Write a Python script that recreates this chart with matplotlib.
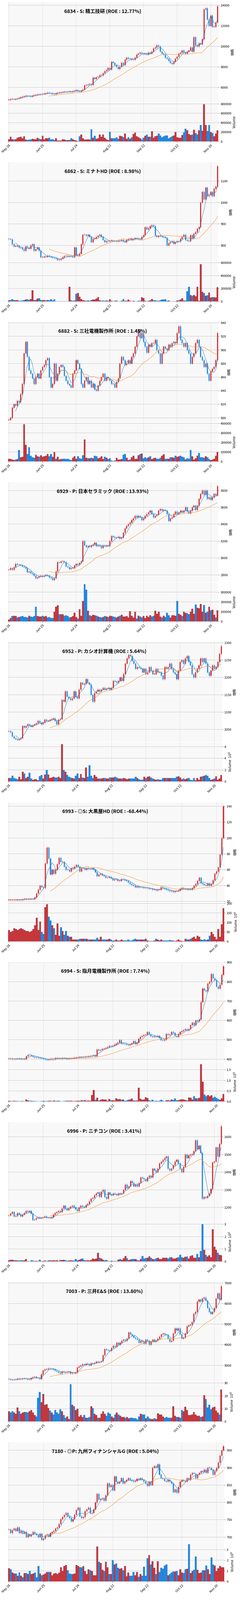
import numpy as np
import matplotlib
matplotlib.use("Agg")
import matplotlib.pyplot as plt
from matplotlib.ticker import ScalarFormatter

plt.rcParams['font.family'] = ['Noto Sans CJK JP', 'DejaVu Sans']

# ---- data ----
titles = [
    "6834 - S: 精工技研 (ROE : 12.77%)",
    "6862 - S: ミナトHD (ROE : 8.98%)",
    "6882 - S: 三社電機製作所 (ROE : 1.45%)",
    "6929 - P: 日本セラミック (ROE : 13.93%)",
    "6952 - P: カシオ計算機 (ROE : 5.64%)",
    "6993 - ◎S: 大黒屋HD (ROE : -68.44%)",
    "6994 - S: 指月電機製作所 (ROE : 7.74%)",
    "6996 - P: ニチコン (ROE : 3.41%)",
    "7003 - P: 三井E&S (ROE : 13.80%)",
    "7180 - ◎P: 九州フィナンシャルG (ROE : 5.04%)",
]
date_labels = ["May 28", "Jun 25", "Jul 24", "Aug 22", "Sep 22", "Oct 22", "Nov 20"]
date_pos = [0, 20, 40, 60, 80, 100, 120]

close_6834 = [4800,4870,4880,4850,4890,4950,5000,5050,5120,5150,
              5200,5180,5170,5120,5220,5250,5300,5330,5320,5350,
              5380,5400,5450,5500,5450,5420,5380,5350,5450,5500,
              5520,5540,5560,5580,5570,5600,5620,5580,5650,5700,
              5750,5650,5600,5700,5800,6200,6250,6300,6350,6250,
              6950,6850,7000,7050,7200,7200,7400,7600,7700,7900,
              7750,8500,8400,8200,8000,7800,8000,8400,8200,8700,
              8900,8800,8800,8700,8700,8900,9200,9300,9400,9300,
              9250,9300,9200,9400,9300,9500,9800,9900,10100,10000,
              9500,9300,9200,8900,8800,8600,8400,8300,8500,8800,
              9000,9300,9400,9600,9400,9300,9500,9600,9900,9500,
              10900,10100,10000,10300,10200,10700,13600,13700,12600,12000,
              13000,11900,11900,12300,13900]
vol_6834 = [50,100,50,40,50,80,90,100,70,110,
            40,30,40,40,60,50,50,80,60,50,
            120,50,70,70,80,40,50,30,70,20,
            20,20,50,40,30,30,30,70,50,30,
            20,10,110,150,70,40,40,50,40,260,
            80,120,60,70,150,100,150,80,50,30,
            210,70,70,70,90,60,120,110,90,170,
            60,90,60,90,160,190,110,90,70,40,
            80,120,150,100,100,220,80,110,120,170,
            130,90,110,130,130,70,90,110,130,200,
            90,80,80,140,190,270,240,160,140,150,
            250,180,150,240,350,230,790,350,225,350,
            200,180,110,170,240]

close_6862 = [830,828,805,795,795,798,790,788,782,775,
              795,790,785,800,805,775,782,790,775,745,
              745,748,746,752,748,745,742,740,738,732,
              733,738,745,750,752,748,750,748,745,790,
              752,752,760,805,850,850,845,850,840,815,
              830,832,840,845,850,840,825,815,820,818,
              822,822,820,820,818,820,822,825,818,815,
              825,830,832,825,830,835,832,830,828,840,
              848,885,875,880,890,895,890,845,840,845,
              842,840,838,835,800,810,815,820,808,815,
              820,818,830,840,850,825,822,820,848,832,
              855,862,878,885,1000,1050,1015,1070,1030,1035,
              1050,1030,1065,1075,1170]
vol_6862 = [20,25,35,25,20,25,10,10,15,25,
            30,35,25,40,175,25,25,45,50,25,
            20,25,15,25,20,35,15,35,5,5,
            5,5,5,5,3,3,230,20,10,15,
            120,130,75,40,20,15,10,15,10,25,
            30,30,45,70,20,10,15,10,15,10,
            35,10,5,10,15,5,5,10,40,10,
            10,30,10,5,10,5,5,10,10,65,
            55,10,5,10,20,40,20,20,10,10,
            20,30,30,35,10,15,5,5,5,5,
            15,20,30,50,15,15,160,230,100,90,
            100,80,230,10,575,150,130,90,95,140,
            60,70,65,60,220]

close_6882 = [797,800,815,820,818,825,823,835,850,895,
              912,890,870,865,858,850,860,865,858,870,
              875,878,885,888,860,845,850,880,855,865,
              875,878,875,862,855,850,848,845,865,870,
              885,880,872,850,845,855,860,850,855,845,
              850,842,840,848,855,860,865,855,860,858,
              855,850,850,845,853,858,880,890,885,878,
              880,885,880,890,895,905,920,930,918,925,
              912,905,896,908,905,910,910,915,900,895,
              880,895,905,902,900,908,905,910,912,910,
              925,935,915,910,905,910,900,895,880,890,
              895,910,915,905,890,885,875,880,865,855,
              868,872,875,885,925]
vol_6882 = [30,25,20,15,20,25,120,45,50,390,
            175,80,150,60,45,40,70,55,50,65,
            50,55,60,80,55,80,50,100,30,50,
            20,25,30,30,25,30,20,15,40,55,
            30,55,35,30,65,230,40,35,35,40,
            35,60,55,35,40,55,25,50,40,25,
            35,10,5,10,40,20,20,25,70,80,
            40,15,20,45,60,25,30,65,80,85,
            35,45,35,45,55,25,35,40,30,30,
            40,60,75,30,30,30,45,45,40,60,
            50,55,60,50,45,20,35,30,120,55,
            20,35,60,90,45,45,40,55,45,25,
            15,20,30,60,100]

close_6929 = [2860,2880,2860,2890,2930,2920,2920,2910,2900,2890,
              2880,2830,2840,2820,2810,2790,2760,2770,2780,2790,
              2780,2790,2800,2790,2770,2760,2740,2760,2840,2950,
              2945,2960,2960,2950,2900,2890,2870,2880,2880,2910,
              2930,2920,2940,2960,3200,3150,3130,3140,3130,3150,
              3160,3180,3140,3150,3140,3120,3150,3140,3150,3140,
              3200,3260,3250,3240,3240,3250,3230,3240,3300,3350,
              3380,3400,3420,3450,3470,3500,3480,3500,3480,3450,
              3470,3500,3520,3540,3560,3520,3480,3500,3510,3560,
              3580,3560,3570,3560,3520,3440,3470,3480,3520,3550,
              3520,3540,3560,3540,3560,3600,3550,3530,3560,3600,
              3620,3570,3620,3700,3760,3800,3750,3800,3700,3720,
              3690,3720,3760,3740,3850]
vol_6929 = [20,35,55,60,55,40,45,50,55,45,
            45,40,60,50,45,55,150,55,50,50,
            60,50,55,40,45,35,35,100,150,165,
            75,75,75,60,65,55,40,45,55,90,
            45,30,125,60,210,380,325,110,65,55,
            70,65,60,50,45,40,45,55,50,45,
            60,55,50,45,40,50,60,70,50,50,
            55,40,105,60,40,100,30,60,50,40,
            55,35,60,45,65,50,60,110,80,100,
            50,40,60,45,90,65,40,65,65,60,
            210,80,70,55,100,90,85,75,100,130,
            80,175,140,135,180,100,170,90,100,150,
            115,120,70,40,115]

close_6952 = [1045,1042,1030,1025,1022,1020,1022,1025,1060,1055,
              1060,1065,1062,1058,1062,1065,1068,1075,1070,1065,
              1070,1078,1075,1075,1078,1080,1082,1075,1065,1078,
              1080,1135,1130,1160,1145,1140,1135,1140,1160,1145,
              1140,1165,1185,1180,1182,1195,1185,1180,1150,1130,
              1155,1160,1165,1160,1165,1170,1165,1168,1170,1165,
              1170,1190,1188,1185,1190,1200,1190,1210,1240,1255,
              1265,1262,1248,1240,1225,1230,1228,1225,1215,1225,
              1210,1215,1230,1220,1210,1210,1225,1215,1215,1205,
              1195,1230,1225,1230,1240,1225,1215,1210,1195,1220,
              1245,1250,1240,1255,1262,1245,1235,1210,1200,1215,
              1225,1235,1255,1245,1255,1240,1215,1205,1220,1235,
              1225,1230,1245,1268,1290]
vol_6952 = [0.6,0.6,1.0,0.6,0.5,0.4,0.8,0.4,1.7,1.4,
            0.6,0.8,1.5,0.5,0.3,0.4,0.4,0.2,0.9,1.1,
            0.5,1.2,2.0,1.2,0.6,0.7,0.8,0.7,0.7,0.8,
            0.6,6.4,2.0,1.7,1.1,0.8,0.7,0.6,0.5,1.0,
            1.4,0.6,1.3,0.7,0.6,2.4,0.8,2.8,1.0,0.6,
            1.1,0.8,0.5,0.5,0.5,0.6,0.6,0.5,0.5,0.7,
            0.7,0.7,0.8,0.7,0.5,0.5,0.5,0.6,0.5,0.4,
            0.5,0.5,0.5,0.5,0.8,0.6,0.4,0.3,0.3,0.8,
            0.6,0.8,0.9,0.7,0.5,0.4,0.3,0.4,0.3,0.3,
            0.6,0.6,0.6,0.6,0.6,0.6,0.6,0.6,0.8,0.9,
            0.7,0.4,0.5,0.4,0.5,0.6,0.3,0.2,0.6,0.2,
            0.6,0.3,0.8,0.9,1.0,1.1,1.0,0.6,0.3,0.4,
            0.5,0.9,0.3,0.5,1.1]

close_6993 = [22,22,22,22,22,22,22,22,23,23,
              23,23,23,23,23,25,30,35,40,38,
              37,68,88,74,54,60,55,60,67,75,
              70,70,64,60,60,58,62,62,64,66,
              64,58,62,62,60,62,61,61,62,60,
              57,52,54,55,53,52,50,50,51,49,
              47,48,48,46,46,48,48,47,46,44,
              42,41,40,38,39,38,38,38,37,37,
              37,36,36,35,35,34,35,35,38,37,
              36,35,34,33,33,32,33,33,34,36,
              37,36,36,35,36,35,37,40,42,46,
              50,43,42,41,40,43,40,42,47,55,
              58,63,79,100,140]
vol_6993 = [60,50,55,70,65,60,65,70,65,60,
            55,55,50,55,65,85,125,60,105,50,
            40,180,195,130,110,85,70,35,95,30,
            75,55,35,55,30,25,25,10,10,10,
            10,15,15,15,15,15,10,10,10,10,
            10,20,10,25,10,10,10,10,15,10,
            5,5,10,5,5,10,5,5,5,10,
            5,5,10,15,10,10,10,10,10,15,
            5,2,2,2,5,15,10,5,10,5,
            5,5,5,8,5,5,2,5,10,5,
            2,2,15,10,10,15,20,25,15,30,
            25,10,8,12,8,10,30,50,40,25,
            12,65,25,90,175]

close_6994 = [402,404,400,400,402,401,403,400,400,400,
              415,422,421,418,412,408,410,407,405,404,
              401,398,396,398,400,398,400,405,404,403,
              402,405,404,401,402,403,404,405,407,408,
              410,410,411,410,412,413,414,416,418,420,
              415,450,445,448,452,455,458,462,468,465,
              470,475,480,485,498,480,480,478,475,472,
              476,482,493,478,485,505,515,520,525,525,
              540,528,518,515,518,515,520,510,498,496,
              500,530,525,528,540,535,520,515,530,540,
              545,550,555,548,555,575,588,575,600,595,
              605,695,765,755,750,790,800,840,818,808,
              775,765,785,835,880]
vol_6994 = [0.04,0.02,0.02,0.03,0.02,0.02,0.01,0.02,0.02,0.01,
            0.09,0.05,0.04,0.03,0.02,0.02,0.01,0.01,0.01,0.02,
            0.03,0.02,0.02,0.03,0.03,0.02,0.05,0.02,0.03,0.03,
            0.01,0.01,0.02,0.03,0.03,0.04,0.03,0.02,0.02,0.03,
            0.04,0.03,0.06,0.05,0.06,0.03,0.05,0.04,0.31,0.55,
            0.08,0.18,0.05,0.08,0.11,0.10,0.09,0.04,0.12,0.06,
            0.06,0.05,0.15,0.11,0.12,0.08,0.10,0.04,0.05,0.08,
            0.10,0.14,0.05,0.05,0.05,0.65,0.13,0.08,0.09,0.20,
            0.17,0.06,0.04,0.08,0.02,0.03,0.02,0.04,0.08,0.04,
            0.01,0.06,0.07,0.04,0.10,0.07,0.14,0.06,0.06,0.09,
            0.11,0.10,0.07,0.05,0.19,0.18,0.10,0.25,0.15,0.14,
            0.18,1.76,0.93,0.33,0.25,0.31,0.25,0.30,0.18,0.22,
            0.16,0.12,0.08,0.15,0.36]

close_6996 = [1155,1165,1175,1150,1152,1168,1162,1150,1160,1170,
              1180,1175,1180,1165,1130,1132,1140,1145,1140,1142,
              1145,1150,1142,1142,1140,1145,1160,1170,1175,1180,
              1175,1195,1210,1195,1185,1195,1205,1210,1200,1190,
              1180,1200,1210,1205,1200,1215,1220,1235,1250,1255,
              1270,1280,1285,1260,1290,1300,1260,1250,1285,1275,
              1270,1280,1275,1270,1280,1275,1280,1300,1330,1310,
              1320,1350,1340,1320,1330,1320,1340,1370,1365,1360,
              1350,1370,1380,1370,1420,1410,1400,1420,1450,1460,
              1470,1480,1490,1420,1410,1420,1440,1460,1470,1450,
              1420,1400,1430,1500,1480,1495,1500,1500,1520,1580,
              1530,1550,1510,1250,1260,1255,1265,1280,1305,1455,
              1460,1540,1490,1560,1660]
vol_6996 = [0.1,0.15,0.15,0.1,0.1,0.08,0.08,0.1,0.08,0.1,
            0.2,0.05,0.03,0.1,0.08,0.05,0.06,0.05,0.15,0.05,
            0.04,0.08,0.05,0.08,0.1,0.08,0.1,0.08,0.1,0.05,
            0.12,0.12,0.15,0.1,0.06,0.08,0.1,0.08,0.08,0.2,
            0.1,0.15,0.2,0.25,0.12,0.08,0.1,0.08,0.15,0.25,
            0.2,0.25,0.7,0.3,0.25,0.15,0.1,0.12,0.05,0.05,
            0.06,0.05,0.05,0.05,0.17,0.2,0.15,0.27,0.45,0.27,
            0.13,0.17,0.2,0.2,0.2,0.1,0.08,0.2,0.45,0.25,
            0.28,0.3,0.42,0.3,0.2,0.18,0.26,0.3,0.2,0.2,
            0.3,0.3,0.3,0.25,0.35,0.35,0.25,0.25,0.3,0.35,
            0.55,0.35,0.3,0.38,0.4,0.25,0.45,0.5,0.3,0.3,
            0.6,0.35,0.85,3.0,0.95,0.55,0.4,0.5,0.35,2.6,
            1.2,0.95,0.7,0.55,0.5]

close_7003 = [2330,2300,2290,2300,2310,2350,2330,2340,2350,2360,
              2350,2310,2320,2380,2420,2440,2390,2380,2330,2560,
              2750,2800,2810,2850,2820,2830,2800,2740,2700,2650,
              2610,2700,2680,2650,2680,2700,2600,2630,2620,2640,
              2900,2950,3000,3050,3020,3080,3050,3000,3100,3080,
              3120,3180,3150,3170,3200,3500,3790,3750,3720,3700,
              3850,3950,3900,4100,4000,4100,4200,4250,4200,4300,
              4600,4500,4450,4350,4300,4250,4100,4200,4150,4050,
              4250,4200,4000,4150,4250,4150,4200,4300,4400,4500,
              4550,4500,4480,4300,4150,4200,4550,4800,4700,4800,
              4500,4300,4350,4550,4900,4950,4980,5100,5500,5600,
              6100,6200,6100,6250,6300,6150,5800,5600,5500,5600,
              5800,6250,6500,6200,6850]
vol_7003 = [8,7,8,7,6,11,8,6,7,7.5,
            7.5,7,8,9,7,5,4,18.5,23,15,
            21.5,13,13.5,10.5,8.5,7,5.5,9,7,6,
            9.5,8,5,3,4,2,29,13,12,9,
            10,4,5,3.5,5,3,3,3.5,12,10.5,
            6,5,3,3,6,8,6,4.5,7,6,
            4,3,5.5,7,5.5,4.5,3.5,3.5,3,3.5,
            2.5,3,3,2.5,2.5,1.5,4,6,5.5,5.5,
            2.5,4,2.5,2,2,2.5,2,6.5,5.5,5.5,
            4,3,3.5,3,3,3,12,4.5,3.5,3.5,
            3,9,8,11.5,9,5,5,5.5,7.5,5.5,
            4.5,4.5,3.5,4,20.5,17.5,11,13,9.5,11,
            11.5,8.5,7,5.5,25]

close_7180 = [722,712,720,725,718,728,712,718,710,715,
              700,708,703,708,715,710,706,700,710,692,
              696,705,708,702,712,715,718,725,728,738,
              752,758,764,770,760,755,745,752,765,778,
              785,760,755,758,775,780,785,768,770,780,
              800,825,808,810,812,805,820,855,845,850,
              835,875,860,855,860,870,855,860,865,870,
              865,862,860,862,868,866,870,865,860,855,
              848,860,850,900,905,900,910,880,870,868,
              862,860,866,860,855,830,838,828,845,860,
              865,862,860,870,865,880,885,883,870,880,
              885,890,888,895,885,900,900,895,880,890,
              900,915,935,950,962]
vol_7180 = [1.25,1.15,0.85,0.75,0.75,0.55,0.85,0.55,0.4,0.8,
            0.8,0.7,1.0,0.7,0.75,0.85,0.4,1.45,0.75,0.6,
            0.65,0.75,0.9,0.9,0.9,0.6,0.75,0.8,0.7,0.85,
            1.35,1.0,1.45,1.55,1.05,0.75,0.7,0.7,0.75,1.55,
            1.45,1.35,1.35,1.45,1.0,0.7,1.15,1.05,1.0,0.6,
            0.6,3.3,1.85,1.75,1.1,1.0,1.85,1.35,0.7,0.7,
            2.0,1.6,1.7,1.3,1.2,1.25,1.05,1.45,0.5,0.85,
            0.55,0.55,0.9,0.6,0.9,0.45,0.7,0.55,1.4,0.55,
            2.2,2.5,1.6,1.9,1.3,0.7,1.9,0.9,1.3,1.2,
            1.5,1.6,0.6,0.7,0.85,0.95,0.95,1.0,0.6,1.15,
            0.85,0.8,1.15,1.2,3.5,0.8,1.0,1.1,2.35,1.1,
            0.8,0.85,1.05,1.05,1.5,1.15,0.7,2.25,1.6,1.5,
            1.0,1.25,1.45,1.35,1.35]

closes = [close_6834, close_6862, close_6882, close_6929, close_6952,
          close_6993, close_6994, close_6996, close_7003, close_7180]
volumes = [vol_6834, vol_6862, vol_6882, vol_6929, vol_6952,
           vol_6993, vol_6994, vol_6996, vol_7003, vol_7180]
vol_in_millions = [False, False, False, False, True, True, True, True, True, True]

# ---- layout ----
W, H = 960, 6390
PANEL = 639
right_px = [873, 873, 873, 873, 888, 897, 897, 888, 888, 897]
UP, DOWN = "#d32f2f", "#1e88e5"
BG = "#f8f8f8"

fig = plt.figure(figsize=(W / 100, H / 100), dpi=100)


def style(ax):
    ax.set_facecolor(BG)
    for s in ax.spines.values():
        s.set_visible(False)
    ax.yaxis.tick_right()
    ax.yaxis.set_label_position("right")
    ax.grid(True, axis="y", color="#d4d4d4", lw=1.4)
    ax.grid(True, axis="x", color="#d9d9d9", lw=0.8)
    ax.set_axisbelow(True)
    ax.tick_params(axis="y", labelsize=9.5, direction="out", length=3, color="#444")


for k in range(10):
    c = np.array(closes[k], dtype=float)
    n = len(c)
    x = np.arange(n)
    o = np.r_[c[0], c[:-1]]
    rng = c.max() - c.min()
    wick = rng * 0.012
    hi = np.maximum(o, c) + wick
    lo = np.minimum(o, c) - wick
    up = c >= o
    col = np.where(up, UP, DOWN)

    top = k * PANEL
    left = 32 / W
    width = (right_px[k] - 32) / W
    axp = fig.add_axes([left, 1 - (top + 407) / H, width, 398 / H])
    axv = fig.add_axes([left, 1 - (top + 565) / H, width, 156 / H], sharex=axp)
    style(axp)
    style(axv)

    axp.vlines(x, lo, hi, colors=col, lw=0.8)
    body = np.maximum(np.abs(c - o), rng * 0.004)
    axp.bar(x, body, bottom=np.minimum(o, c), width=0.6, color=col, edgecolor=col, lw=0.4)
    ma5 = np.convolve(c, np.ones(5) / 5, mode="valid")
    ma25 = np.convolve(c, np.ones(25) / 25, mode="valid")
    axp.plot(x[4:], ma5, color="#1f77b4", lw=0.9)
    axp.plot(x[24:], ma25, color="#ff7f0e", lw=0.9)
    axp.set_ylim(lo.min() - rng * 0.01, hi.max() + rng * 0.03)
    axp.set_ylabel("価格", fontsize=10)
    axp.tick_params(axis="x", labelbottom=False, length=0)
    axp.text(0.45, 0.91, titles[k], transform=axp.transAxes, ha="center", va="center",
             fontsize=14, fontweight="bold")

    v = np.array(volumes[k], dtype=float)
    if not vol_in_millions[k]:
        v = v * 1000
    axv.bar(x, v, width=1.0, color=col, edgecolor="#3a6ea5", lw=0.4)
    axv.set_ylim(0, v.max() * 1.05)
    if vol_in_millions[k]:
        axv.set_ylabel("Volume  $10^6$", fontsize=10)
    else:
        axv.set_ylabel("Volume", fontsize=10)
        fmt = ScalarFormatter(useOffset=False)
        fmt.set_scientific(False)
        axv.yaxis.set_major_formatter(fmt)
    axv.set_xlim(-0.5, n - 0.5)
    axv.set_xticks(date_pos)
    axv.set_xticklabels(date_labels, rotation=45, ha="right", rotation_mode="anchor", fontsize=9.5)
    axv.tick_params(axis="x", length=3)

fig.savefig("out.png", dpi=100, facecolor="white")
